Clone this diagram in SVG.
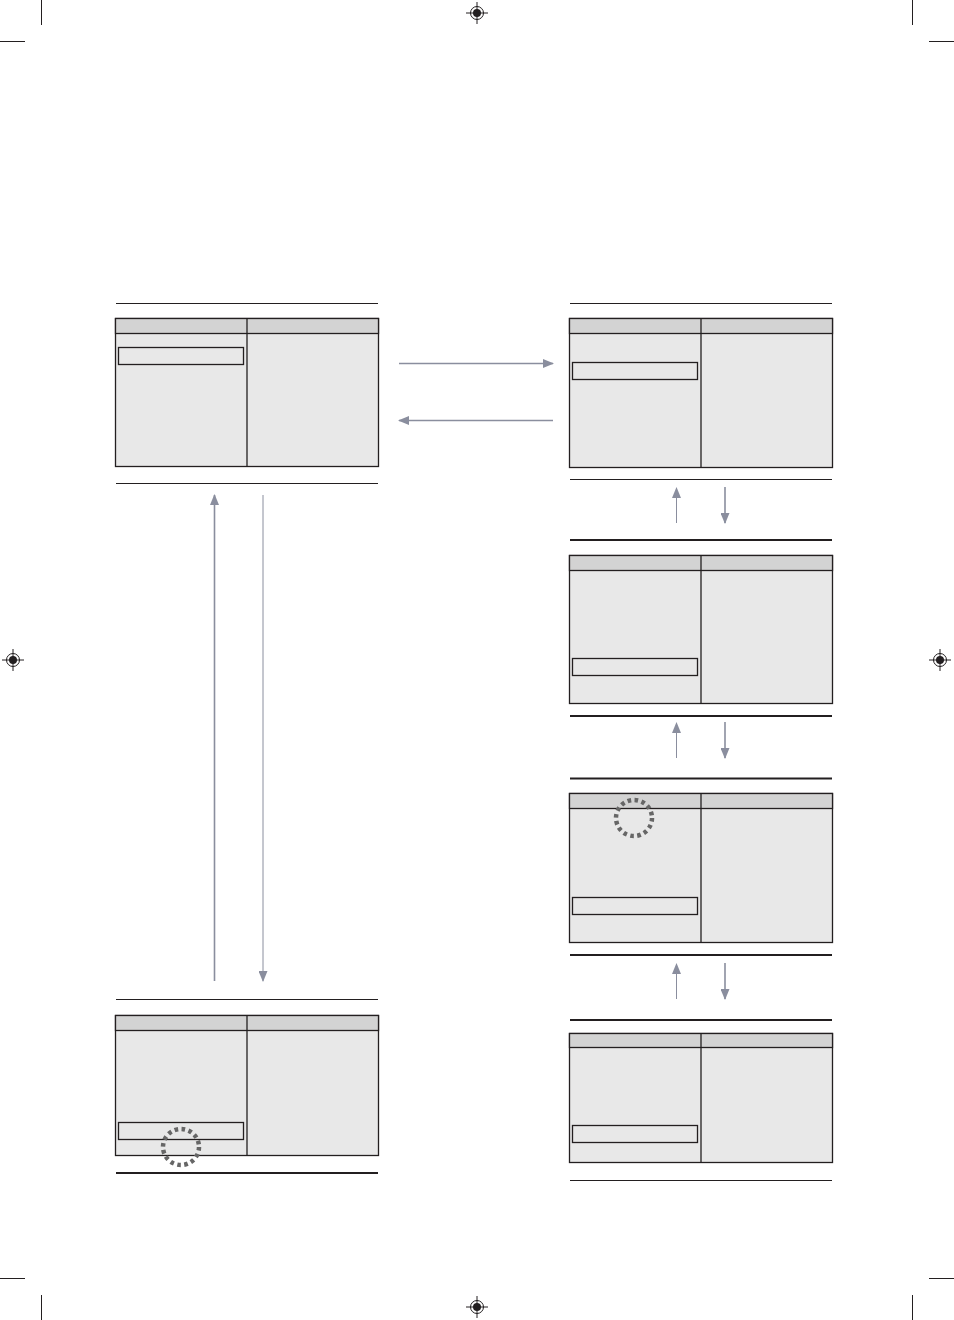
<svg xmlns="http://www.w3.org/2000/svg" width="954" height="1320" viewBox="0 0 954 1320">
<style>
.crop{stroke:#231f20;stroke-width:1;fill:none}
.reg{stroke:#231f20;stroke-width:1;fill:none}
.body{fill:#e8e8e8;stroke:#231f20;stroke-width:1.3}
.head{fill:#d3d3d3;stroke:#231f20;stroke-width:1.3}
.div{stroke:#231f20;stroke-width:1.3}
.hl{fill:none;stroke:#231f20;stroke-width:1.3}
.thin{stroke:#231f20;stroke-width:1}
.thick{stroke:#231f20;stroke-width:2}
.arr{stroke:#8a8e9e;stroke-width:1.6;fill:none}
.arrthin{stroke:#8a8e9e;stroke-width:1;fill:none}
.spin{fill:none;stroke:#666;stroke-width:4.5;stroke-dasharray:3.6 3.47}
</style>
<defs>
<marker id="ah" viewBox="0 0 11 9" refX="10" refY="4.5" markerWidth="11" markerHeight="9" markerUnits="userSpaceOnUse" orient="auto">
<path d="M0,0 L11,4.5 L0,9 Z" fill="#8a8e9e"/>
</marker>
<g id="regmark">
<circle cx="0" cy="0" r="6.5" class="reg"/>
<path d="M-4,0 A4,4 0 0 1 4,0 A4,4 0 0 1 -4,0 Z" fill="#231f20"/>
<line x1="-11" y1="0" x2="11" y2="0" class="reg"/>
<line x1="0" y1="-11" x2="0" y2="11" class="reg"/>
</g>
</defs>
<rect width="954" height="1320" fill="#fff"/>
<g id="cropmarks">
<line x1="41.5" y1="0" x2="41.5" y2="25" class="crop"/>
<line x1="0" y1="41.5" x2="25" y2="41.5" class="crop"/>
<line x1="912.5" y1="0" x2="912.5" y2="25" class="crop"/>
<line x1="929" y1="41.5" x2="954" y2="41.5" class="crop"/>
<line x1="0" y1="1278.5" x2="25" y2="1278.5" class="crop"/>
<line x1="41.5" y1="1295" x2="41.5" y2="1320" class="crop"/>
<line x1="929" y1="1278.5" x2="954" y2="1278.5" class="crop"/>
<line x1="912.5" y1="1295" x2="912.5" y2="1320" class="crop"/>
<use href="#regmark" x="477" y="13"/>
<use href="#regmark" x="13" y="660"/>
<use href="#regmark" x="940" y="660"/>
<use href="#regmark" x="477" y="1307"/>
</g>
<g id="rules">
<line x1="116" y1="303.5" x2="378" y2="303.5" class="thin"/>
<line x1="116" y1="483.5" x2="378" y2="483.5" class="thin"/>
<line x1="116" y1="999.5" x2="378" y2="999.5" class="thin"/>
<line x1="116" y1="1173" x2="378" y2="1173" class="thick"/>
<line x1="570" y1="303.5" x2="832" y2="303.5" class="thin"/>
<line x1="570" y1="479.5" x2="832" y2="479.5" class="thin"/>
<line x1="570" y1="540" x2="832" y2="540" class="thick"/>
<line x1="570" y1="716" x2="832" y2="716" class="thick"/>
<line x1="570" y1="778.5" x2="832" y2="778.5" class="thick"/>
<line x1="570" y1="955" x2="832" y2="955" class="thick"/>
<line x1="570" y1="1020" x2="832" y2="1020" class="thick"/>
<line x1="570" y1="1180.5" x2="832" y2="1180.5" class="thin"/>
</g>
<g id="panel-top-left">
<rect x="115.5" y="318.5" width="263" height="148" class="body"/>
<rect x="115.5" y="318.5" width="263" height="15" class="head"/>
<line x1="247" y1="318.5" x2="247" y2="466.5" class="div"/>
<rect x="118.5" y="347.5" width="125" height="17" class="hl"/>
</g>
<g id="panel-bottom-left">
<rect x="115.5" y="1015.5" width="263" height="140" class="body"/>
<rect x="115.5" y="1015.5" width="263" height="15" class="head"/>
<line x1="247" y1="1015.5" x2="247" y2="1155.5" class="div"/>
<rect x="118.5" y="1122.5" width="125" height="17" class="hl"/>
<circle cx="181" cy="1147" r="18" class="spin"/>
</g>
<g id="panel-right-1">
<rect x="569.5" y="318.5" width="263" height="149" class="body"/>
<rect x="569.5" y="318.5" width="263" height="15" class="head"/>
<line x1="701" y1="318.5" x2="701" y2="467.5" class="div"/>
<rect x="572.5" y="362.5" width="125" height="17" class="hl"/>
</g>
<g id="panel-right-2">
<rect x="569.5" y="555.5" width="263" height="148" class="body"/>
<rect x="569.5" y="555.5" width="263" height="15" class="head"/>
<line x1="701" y1="555.5" x2="701" y2="703.5" class="div"/>
<rect x="572.5" y="658.5" width="125" height="17" class="hl"/>
</g>
<g id="panel-right-3">
<rect x="569.5" y="793.5" width="263" height="149" class="body"/>
<rect x="569.5" y="793.5" width="263" height="15" class="head"/>
<line x1="701" y1="793.5" x2="701" y2="942.5" class="div"/>
<rect x="572.5" y="897.5" width="125" height="17" class="hl"/>
<circle cx="634" cy="818" r="18" class="spin"/>
</g>
<g id="panel-right-4">
<rect x="569.5" y="1033.5" width="263" height="129" class="body"/>
<rect x="569.5" y="1033.5" width="263" height="14" class="head"/>
<line x1="701" y1="1033.5" x2="701" y2="1162.5" class="div"/>
<rect x="572.5" y="1125.5" width="125" height="17" class="hl"/>
</g>
<g id="connectors">
<line x1="399" y1="363.5" x2="553" y2="363.5" class="arr" marker-end="url(#ah)"/>
<line x1="553" y1="420.5" x2="399" y2="420.5" class="arr" marker-end="url(#ah)"/>
<line x1="214.5" y1="981" x2="214.5" y2="495" class="arr" marker-end="url(#ah)"/>
<line x1="263" y1="495" x2="263" y2="981" class="arrthin" marker-end="url(#ah)"/>
<line x1="676.5" y1="523" x2="676.5" y2="488" class="arrthin" marker-end="url(#ah)"/>
<line x1="725" y1="487" x2="725" y2="523" class="arr" marker-end="url(#ah)"/>
<line x1="676.5" y1="758" x2="676.5" y2="723" class="arrthin" marker-end="url(#ah)"/>
<line x1="725" y1="722" x2="725" y2="758" class="arr" marker-end="url(#ah)"/>
<line x1="676.5" y1="999" x2="676.5" y2="964" class="arrthin" marker-end="url(#ah)"/>
<line x1="725" y1="963" x2="725" y2="999" class="arr" marker-end="url(#ah)"/>
</g>
</svg>
